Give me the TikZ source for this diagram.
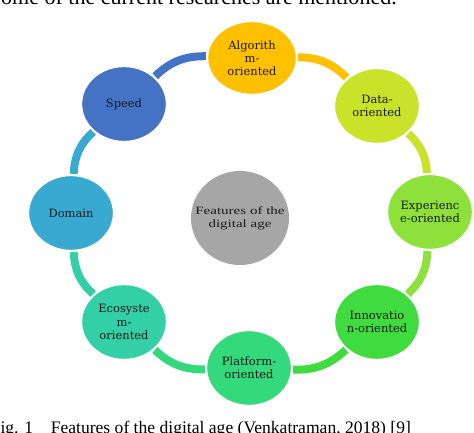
\documentclass[tikz,border=0pt]{standalone}
\usepackage{fontspec}
\setmainfont{Liberation Serif}
\newfontfamily\lblfont{DejaVu Serif}
\newfontfamily\hubfont[FakeStretch=1.35]{Liberation Serif}
\usetikzlibrary{shapes.geometric}
\definecolor{ink}{HTML}{1A1A1A}
\definecolor{algocol}{HTML}{FFC000}
\definecolor{datacol}{HTML}{C8E32A}
\definecolor{expcol}{HTML}{8EE03A}
\definecolor{innocol}{HTML}{3FDB3F}
\definecolor{platcol}{HTML}{33D97A}
\definecolor{ecocol}{HTML}{33D0A8}
\definecolor{domcol}{HTML}{38A9D0}
\definecolor{speedcol}{HTML}{4472C4}
\definecolor{hubcol}{HTML}{A6A6A6}

\begin{document}
\begin{tikzpicture}[
  x=0.03cm, y=-0.03cm,
  feat/.style={ellipse, draw=white, line width=2pt, inner sep=0pt, align=center,
               text=ink, font=\lblfont\fontsize{9.8}{11.2}\selectfont,
               minimum width=2.58cm, minimum height=2.28cm},
  hub/.style={ellipse, fill=hubcol, inner xsep=-9pt, inner ysep=0pt, align=center,
              text=ink, font=\hubfont\fontsize{9.5}{11}\selectfont,
              minimum width=2.94cm, minimum height=2.82cm},
  link/.style={line width=6.8pt},
  txt/.style={inner sep=0pt, text=black}]

% ---------------------------------------------------------------- frame
\useasboundingbox (0,0) rectangle (474,433);
\clip (0,0) rectangle (474,433);

% ---------------------------------------------------------------- page text
\node[txt, anchor=base east, font=\fontsize{18.8}{22}\selectfont] (above) at (397,5)
  {Some of the current researches are mentioned.};
\node[txt, anchor=base west, font=\fontsize{15}{18}\selectfont] (caption) at (-9.5,434)
  {Fig. 1\hspace{1em}Features of the digital age (Venkatraman, 2018) [9]};

% ---------------------------------------------------------------- hub
\node[hub] (hub) at (240,218) {Features of the\\digital age};

% ---------------------------------------------------------------- ring
\node[feat, fill=algocol, minimum width=2.7cm, minimum height=2.22cm] (algo) at (252,58)
  {Algorith\\m-\\oriented};
\node[feat, fill=datacol]  (data)   at (377,106) {Data-\\oriented};
\node[feat, fill=expcol]   (exper)  at (430,212) {Experienc\\e-oriented};
\node[feat, fill=innocol]  (innov)  at (377,322) {Innovatio\\n-oriented};
\node[feat, fill=platcol]  (platf)  at (249,368) {Platform-\\oriented};
\node[feat, fill=ecocol]   (ecosys) at (124,322) {Ecosyste\\m-\\oriented};
\node[feat, fill=domcol]   (domain) at (71,213)  {Domain};
\node[feat, fill=speedcol] (speed)  at (124,104) {Speed};

% ---------------------------------------------------------------- links
\foreach \a/\b/\c in {speed/algo/speedcol, algo/data/algocol, data/exper/datacol,
                      exper/innov/expcol, innov/platf/innocol, platf/ecosys/platcol,
                      ecosys/domain/ecocol, domain/speed/domcol}
  \draw[link, draw=\c] (\a) to[bend left=22] (\b);

\end{tikzpicture}
\end{document}
